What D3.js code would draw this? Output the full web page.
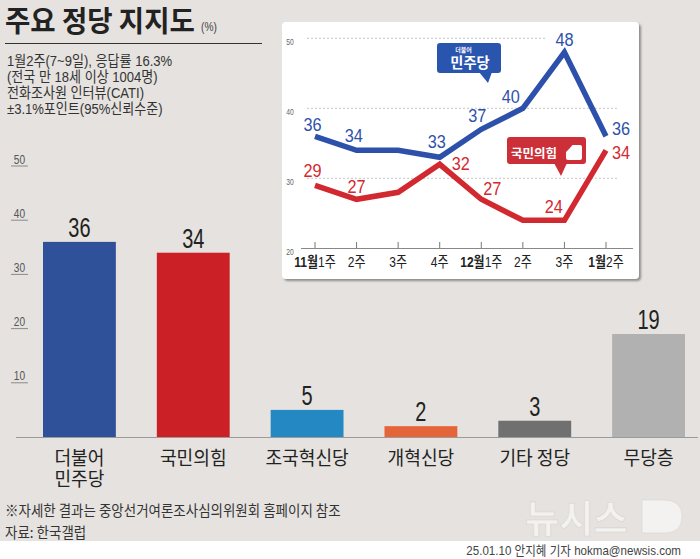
<!DOCTYPE html>
<html><head><meta charset="utf-8">
<script src="https://cdn.jsdelivr.net/npm/d3@7"></script>
<style>html,body{margin:0;padding:0;background:#fff;}svg{display:block;}</style>
</head><body>
<script>
// ---- data ----
const categories = ["더불어\n민주당", "국민의힘", "조국혁신당", "개혁신당", "기타 정당", "무당층"];
const support = [36, 34, 5, 2, 3, 19];
const barTicks = [10, 20, 30, 40, 50];

const weeks = ["11월1주", "2주", "3주", "4주", "12월1주", "2주", "3주", "1월2주"];
const minjoo = [36, 34, 34, 33, 37, 40, 48, 36];
const ppp = [29, 27, 28, 32, 27, 24, 24, 34];
const minjooShown = [true, true, false, true, true, true, true, true];
const pppShown = [true, true, false, true, true, false, true, true];
const insetTicks = [20, 30, 40, 50];

const titleText = "주요 정당 지지도";
const unitText = "(%)";
const notes = ["1월2주(7~9일), 응답률 16.3%", "(전국 만 18세 이상 1004명)", "전화조사원 인터뷰(CATI)", "±3.1%포인트(95%신뢰수준)"];
const footNote = "※자세한 결과는 중앙선거여론조사심의위원회 홈페이지 참조";
const sourceText = "자료: 한국갤럽";
const creditText = "25.01.10 안지혜 기자 hokma@newsis.com";

// ---- styles ----
const barColors = ["#2f5199", "#cb2126", "#2489c2", "#e4653a", "#707070", "#b1b1b1"];
const BLUE = "#2d51ab", RED = "#d2282f";
const FONT = "'Liberation Sans','Noto Sans CJK KR',sans-serif";
const KFONT = "'Noto Sans CJK KR','Liberation Sans',sans-serif";
// label offsets (layout)
const minjooOff = [[-2.5,-5],[-2.7,-8.6],[0,0],[-3,-9],[-4,-7.6],[-12,-5],[0,-6],[15,-1]];
const pppOff = [[-2.5,-8.6],[0,-6],[0,0],[21,5.7],[11,-4.3],[0,0],[-10.6,-7],[15,9]];

const W = 700, H = 559;
const svg = d3.select("body").append("svg").attr("width", W).attr("height", H);

function T(p, x, y, s, o = {}) {
  return p.append("text")
    .attr("transform", `translate(${x},${y}) scale(${o.sx || 1},1)`)
    .attr("text-anchor", o.anchor || "start")
    .style("font-family", o.family || FONT)
    .style("font-size", o.size + "px")
    .style("font-weight", o.weight || 400)
    .attr("fill", o.fill || "#222")
    .text(s);
}

const defs = svg.append("defs");
const f = defs.append("filter").attr("id", "sh").attr("x", "-5%").attr("y", "-5%").attr("width", "115%").attr("height", "115%");
f.append("feDropShadow").attr("dx", 2).attr("dy", 2).attr("stdDeviation", 1.3).attr("flood-color", "#777").attr("flood-opacity", 0.8);

// background
svg.append("rect").attr("x", 0).attr("y", 0).attr("width", W).attr("height", 541).attr("fill", "#e5e2df");

// title
T(svg, 5, 32, titleText, { size: 29, weight: 700, sx: 0.95, family: KFONT, fill: "#222" });
T(svg, 201, 31, unitText, { size: 12, sx: 0.85, fill: "#444" });
svg.append("line").attr("x1", 5).attr("x2", 262).attr("y1", 43.5).attr("y2", 43.5).attr("stroke", "#333").attr("stroke-width", 1);
notes.forEach((n, i) => T(svg, 7, 66 + i * 16, n, { size: 14.5, sx: 0.9, fill: "#333" }));

// ---- main bar chart ----
const x = d3.scaleBand().domain(categories).range([43, 685]).paddingInner(0.36).paddingOuter(0);
const y = d3.scaleLinear().domain([0, 50]).range([437, 166]);

const tg = svg.append("g");
barTicks.forEach(t => {
  tg.append("line").attr("x1", 11).attr("x2", 28).attr("y1", y(t)).attr("y2", y(t)).attr("stroke", "#8a8a8a").attr("stroke-width", 1);
  T(tg, 19.5, y(t) - 2.5, t, { size: 13, sx: 0.78, anchor: "middle", fill: "#555" });
});

svg.append("g").selectAll("rect").data(support).join("rect")
  .attr("x", (d, i) => x(categories[i])).attr("width", x.bandwidth())
  .attr("y", d => y(d)).attr("height", d => y(0) - y(d))
  .attr("fill", (d, i) => barColors[i]);

svg.append("line").attr("x1", 16).attr("x2", 698).attr("y1", 437.5).attr("y2", 437.5).attr("stroke", "#9a9a9a").attr("stroke-width", 1.2);

support.forEach((d, i) => {
  T(svg, x(categories[i]) + x.bandwidth() / 2, y(d) - 5, d, { size: 27, sx: 0.74, anchor: "middle", fill: "#222" });
});
categories.forEach(c => {
  c.split("\n").forEach((ln, j) => {
    T(svg, x(c) + x.bandwidth() / 2, 465 + j * 20.5, ln, { size: 19.5, sx: 0.93, anchor: "middle", family: KFONT, fill: "#222" });
  });
});

// ---- inset line chart ----
const ig = svg.append("g");
ig.append("rect").attr("x", 282).attr("y", 22).attr("width", 357).attr("height", 257).attr("rx", 4).attr("fill", "#fff").attr("filter", "url(#sh)");

const xi = d3.scalePoint().domain(d3.range(weeks.length)).range([315, 606]);
const yi = d3.scaleLinear().domain([20, 50]).range([248.3, 38.3]);

insetTicks.forEach(t => {
  if (t > 20) {
    ig.append("line").attr("x1", 307).attr("x2", t === 50 ? 545 : 618).attr("y1", yi(t)).attr("y2", yi(t))
      .attr("stroke", "#b8b8b8").attr("stroke-width", 0.8).attr("stroke-dasharray", "2,2");
  }
  T(ig, 290, yi(t) + 7, t, { size: 9, sx: 0.75, anchor: "middle", fill: "#666" });
});
ig.append("line").attr("x1", 301).attr("x2", 633).attr("y1", 248.5).attr("y2", 248.5).attr("stroke", "#888").attr("stroke-width", 1.2);
weeks.forEach((w, i) => {
  ig.append("line").attr("x1", xi(i)).attr("x2", xi(i)).attr("y1", 242).attr("y2", 248).attr("stroke", "#777").attr("stroke-width", 1);
  const m = w.match(/^(\d+월)?(.*)$/);
  const t = T(ig, xi(i), 267, "", { size: 15, sx: 0.8, anchor: "middle", fill: "#222" });
  if (m[1]) t.append("tspan").style("font-weight", 700).text(m[1]);
  t.append("tspan").text(m[2]);
});

const line = d3.line().x((d, i) => xi(i)).y(d => yi(d));
ig.append("path").datum(ppp).attr("d", line).attr("fill", "none").attr("stroke", RED).attr("stroke-width", 5.5).attr("stroke-linejoin", "miter");
ig.append("path").datum(minjoo).attr("d", line).attr("fill", "none").attr("stroke", BLUE).attr("stroke-width", 5.5).attr("stroke-linejoin", "miter");

minjoo.forEach((v, i) => { if (minjooShown[i]) T(ig, xi(i) + minjooOff[i][0], yi(v) + minjooOff[i][1], v, { size: 18.5, sx: 0.88, anchor: "middle", fill: BLUE }); });
ppp.forEach((v, i) => { if (pppShown[i]) T(ig, xi(i) + pppOff[i][0], yi(v) + pppOff[i][1], v, { size: 18.5, sx: 0.88, anchor: "middle", fill: RED }); });

// legend tags
ig.append("rect").attr("x", 437).attr("y", 43).attr("width", 64).attr("height", 30).attr("rx", 3).attr("fill", "#2a55ae");
ig.append("polygon").attr("points", "479,72 492,72 488,83").attr("fill", "#2a55ae");
T(ig, 463.5, 51.5, "더불어", { size: 6, weight: 700, anchor: "middle", family: KFONT, fill: "#fff" });
T(ig, 470, 68, "민주당", { size: 15, weight: 700, sx: 0.95, anchor: "middle", family: KFONT, fill: "#fff" });

ig.append("rect").attr("x", 507).attr("y", 137).attr("width", 79).attr("height", 27).attr("rx", 3).attr("fill", "#cc2f38");
ig.append("polygon").attr("points", "554,163 567,163 561,176").attr("fill", "#cc2f38");
T(ig, 534, 158, "국민의힘", { size: 12.5, weight: 700, anchor: "middle", family: KFONT, fill: "#fff" });
ig.append("path").attr("d", "M569,149 L572.5,145 L580,145 Q582,145 582,147 L582,158 Q582,160 580,160 L568,160 Q566,160 566,158 L566,152 Z").attr("fill", "#fff");

// ---- footer ----
T(svg, 5, 516, footNote, { size: 15, sx: 0.9, family: KFONT, fill: "#333" });
T(svg, 5, 538, sourceText, { size: 15, sx: 0.9, family: KFONT, fill: "#333" });

// logo
const lg = svg.append("g");
T(lg, 525, 532, "뉴시스", { size: 38, weight: 700, sx: 0.98, family: KFONT, fill: "#f4f2f0" }).attr("stroke", "#d8d4d0").attr("stroke-width", 0.6);
lg.append("path").attr("d", "M642,500 L664,500 Q682,500 682,516.5 Q682,533 664,533 L642,533 Z").attr("fill", "#f4f2f0").attr("stroke", "#d8d4d0").attr("stroke-width", 0.6);

T(svg, 681, 555, creditText, { size: 13, sx: 0.89, anchor: "end", fill: "#444" });
</script>
</body></html>
